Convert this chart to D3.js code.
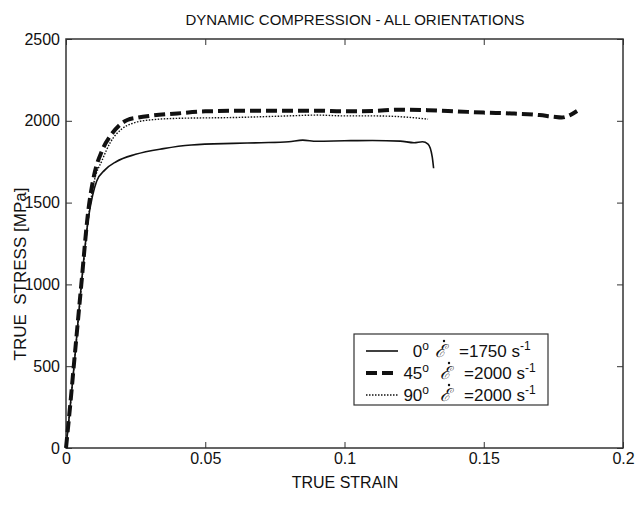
<!DOCTYPE html>
<html>
<head>
<meta charset="utf-8">
<script src="https://cdn.jsdelivr.net/npm/d3@7"></script>
<style>
  body { margin: 0; background: #fff; }
  text { font-family: "Liberation Sans", Arial, sans-serif; fill: #111; }
</style>
</head>
<body>
<div id="chart"></div>
<script>
// strain / stress readings for each orientation
let strain0 = [0, 0.0015, 0.003, 0.0055, 0.008, 0.0095, 0.011, 0.014, 0.018, 0.025, 0.035, 0.045, 0.06, 0.07, 0.08, 0.085, 0.09, 0.1, 0.11, 0.12, 0.125, 0.128, 0.13, 0.1315, 0.132];
let stress0 = [0, 250, 520, 1000, 1400, 1540, 1630, 1700, 1750, 1795, 1830, 1852, 1862, 1866, 1872, 1882, 1875, 1878, 1880, 1876, 1866, 1872, 1858, 1780, 1710];

let strain45 = [0, 0.0015, 0.003, 0.0055, 0.008, 0.01, 0.013, 0.016, 0.019, 0.022, 0.026, 0.03, 0.04, 0.05, 0.07, 0.09, 0.1, 0.11, 0.12, 0.13, 0.14, 0.15, 0.16, 0.17, 0.175, 0.178, 0.181, 0.1835];
let stress45 = [0, 260, 540, 1000, 1450, 1660, 1820, 1910, 1970, 2005, 2020, 2030, 2045, 2058, 2062, 2062, 2058, 2060, 2068, 2065, 2058, 2050, 2045, 2035, 2025, 2020, 2035, 2060];

let strain90 = [0, 0.0015, 0.003, 0.0055, 0.008, 0.01, 0.013, 0.016, 0.02, 0.024, 0.03, 0.04, 0.06, 0.08, 0.09, 0.1, 0.11, 0.12, 0.13];
let stress90 = [0, 250, 520, 980, 1400, 1620, 1760, 1870, 1950, 1985, 2005, 2015, 2020, 2030, 2035, 2030, 2030, 2025, 2010];

let xTicks = [0, 0.05, 0.1, 0.15, 0.2];
let yTicks = [0, 500, 1000, 1500, 2000, 2500];

let legendAngles = ["0", "45", "90"];
let legendRates = ["1750", "2000", "2000"];

let width = 639, height = 519;
let plot = { left: 66, right: 623, top: 39, bottom: 448 }; //px

let svg = d3.select("#chart")
    .append("svg")
    .attr("width", width)
    .attr("height", height);

let xScale = d3.scaleLinear().domain([0, 0.2]).range([plot.left, plot.right]);
let yScale = d3.scaleLinear().domain([0, 2500]).range([plot.bottom, plot.top]);

/*---------------
 // axes
 ----------------*/
let fmt = d => d3.format("")(+d.toFixed(2));

function tidy(g) {
    g.select(".domain").remove();
    g.selectAll(".tick line").attr("stroke", "#333");
    g.selectAll(".tick text").style("font-size", "16px").attr("fill", "#111")
        .style("font-family", "'Liberation Sans', Arial, sans-serif");
}

svg.append("g")
    .attr("transform", "translate(0," + plot.bottom + ")")
    .call(d3.axisBottom(xScale).tickValues(xTicks).tickFormat(fmt).tickSizeInner(-6).tickSizeOuter(0).tickPadding(5))
    .call(tidy);

svg.append("g")
    .attr("transform", "translate(0," + plot.top + ")")
    .call(d3.axisTop(xScale).tickValues(xTicks).tickFormat("").tickSizeInner(-6).tickSizeOuter(0))
    .call(tidy);

svg.append("g")
    .attr("transform", "translate(" + plot.left + ",0)")
    .call(d3.axisLeft(yScale).tickValues(yTicks).tickFormat(d3.format("d")).tickSizeInner(-6).tickSizeOuter(0).tickPadding(6))
    .call(tidy);

svg.append("g")
    .attr("transform", "translate(" + plot.right + ",0)")
    .call(d3.axisRight(yScale).tickValues(yTicks).tickFormat("").tickSizeInner(-6).tickSizeOuter(0))
    .call(tidy);

svg.append("rect")
    .attr("x", plot.left)
    .attr("y", plot.top)
    .attr("width", plot.right - plot.left)
    .attr("height", plot.bottom - plot.top)
    .attr("fill", "none")
    .attr("stroke", "#333")
    .attr("stroke-width", 1.5);

svg.append("text")
    .attr("x", 355)
    .attr("y", 25)
    .style("text-anchor", "middle")
    .style("font-size", "15px")
    .text("DYNAMIC COMPRESSION - ALL ORIENTATIONS");

svg.append("text")
    .attr("x", 345)
    .attr("y", 488)
    .style("text-anchor", "middle")
    .style("font-size", "16px")
    .text("TRUE STRAIN");

let yLabel = { x: 26, y: 274 };
svg.append("text")
    .attr("x", yLabel.x)
    .attr("y", yLabel.y)
    .style("text-anchor", "middle")
    .style("font-size", "17px")
    .style("white-space", "pre")
    .attr("transform", "rotate(-90," + yLabel.x + "," + yLabel.y + ")")
    .text("TRUE  STRESS [MPa]");

/*---------------
 // curves
 ----------------*/
let line = d3.line()
    .x(d => xScale(d[0]))
    .y(d => yScale(d[1]))
    .curve(d3.curveMonotoneX);

let series = [
    { xs: strain0, ys: stress0, width: 1.6, dash: null },
    { xs: strain45, ys: stress45, width: 4, dash: "11,5" },
    { xs: strain90, ys: stress90, width: 1.4, dash: "1.5,1.5" }
];

series.forEach(s => {
    svg.append("path")
        .datum(s.xs.map((v, i) => [v, s.ys[i]]))
        .attr("d", line)
        .attr("fill", "none")
        .attr("stroke", "#111")
        .attr("stroke-width", s.width)
        .attr("stroke-dasharray", s.dash);
});

/*---------------
 // legend
 ----------------*/
let lg = svg.append("g").attr("transform", "translate(354,334)");
lg.append("rect")
    .attr("width", 194)
    .attr("height", 71)
    .attr("fill", "#fff")
    .attr("stroke", "#333")
    .attr("stroke-width", 1.2);

series.forEach((s, i) => {
    let y = 17 + i * 22;
    lg.append("line")
        .attr("x1", 12).attr("x2", 44)
        .attr("y1", y).attr("y2", y)
        .attr("stroke", "#111")
        .attr("stroke-width", s.width)
        .attr("stroke-dasharray", s.dash);

    let t = lg.append("text")
        .attr("x", 75)
        .attr("y", y + 6)
        .style("font-size", "17px")
        .style("text-anchor", "end");
    t.append("tspan").text(legendAngles[i]);
    t.append("tspan").attr("dy", -7).style("font-size", "12px").text("o");

    // rate symbol: script E with a dot above
    let ex = i == 0 ? 81 : 86;
    lg.append("text")
        .attr("x", ex)
        .attr("y", y + 6)
        .style("font-size", "18px")
        .style("font-family", "'DejaVu Serif', serif")
        .style("font-style", "italic")
        .text("\u2130");
    lg.append("circle")
        .attr("cx", ex + 9)
        .attr("cy", y - 10)
        .attr("r", 1.2)
        .attr("fill", "#111");

    let e = lg.append("text")
        .attr("x", ex + 24)
        .attr("y", y + 6)
        .style("font-size", "17px");
    e.append("tspan").text("=" + legendRates[i] + " s");
    e.append("tspan").attr("dy", -7).style("font-size", "12px").text("-1");
});
</script>
</body>
</html>
